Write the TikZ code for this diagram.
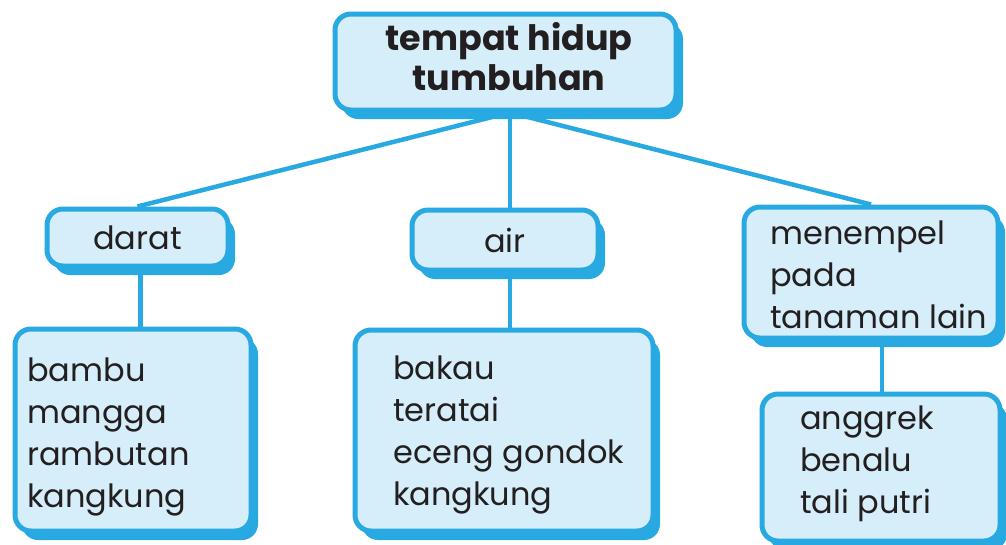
\documentclass[tikz,border=0pt]{standalone}
\usepackage{fontspec}
\setmainfont{Poppins}
\usetikzlibrary{shadows,backgrounds}
\definecolor{bl}{HTML}{29A9E1}
\definecolor{lb}{HTML}{D5EEFA}
\definecolor{ink}{HTML}{231F20}
\begin{document}
\begin{tikzpicture}[x=1pt,y=-1pt,
  box/.style={draw=bl,line width=5pt,fill=lb,rounded corners=16pt,inner sep=0pt,
    drop shadow={shadow xshift=7pt,shadow yshift=-9pt,fill=bl,opacity=1}},
  conn/.style={draw=bl,line width=4.5pt},
  txt/.style={font=\fontsize{32}{42}\selectfont,text=ink,align=left},
  list/.style={txt,anchor=north west,inner sep=0pt}]
\useasboundingbox (0,0) rectangle (1006,544);
% boxes
\node[box,minimum width=341pt,minimum height=96pt] (top) at (505.5,62) {};
\node[box,txt,minimum width=181pt,minimum height=57pt] (darat) at (137.5,237.5) {darat};
\node[box,txt,minimum width=186pt,minimum height=60pt] (air) at (505,240) {air};
\node[box,minimum width=254pt,minimum height=131pt] (menempel) at (871,272.5) {};
\node[box,minimum width=236pt,minimum height=202pt] (bambu) at (133,430) {};
\node[box,minimum width=298pt,minimum height=201pt] (bakau) at (504,430.5) {};
\node[box,minimum width=238pt,minimum height=147pt] (anggrek) at (881,467.5) {};
% texts
\node[txt,anchor=north,inner sep=0pt,align=center,font=\bfseries\fontsize{35}{40}\selectfont] (topT) at (509,22) {tempat hidup\\tumbuhan};
\node[list] (menempelT) at (770,221) {menempel\\pada\\\mbox{tanaman lain}};
\node[list] (bambuT) at (27,358) {bambu\\mangga\\rambutan\\kangkung};
\node[list] (bakauT) at (393,356) {bakau\\teratai\\\mbox{eceng gondok}\\kangkung};
\node[list] (anggrekT) at (800,406) {anggrek\\benalu\\\mbox{tali putri}};
% connector points
\coordinate (j) at (510,0 |- top.south);
\coordinate (dx) at ([xshift=3pt]darat.south);
\coordinate (ax) at (510,0 |- air.south);
\coordinate (mx) at ([xshift=11pt]menempel.south);
\begin{scope}[on background layer]
\fill[white] (0,0) rectangle (1006,544);
\draw[conn] (j) -- (darat.north);
\draw[conn] (j) -- (j |- air.north);
\draw[conn] (j) -- (menempel.north);
\draw[conn] (dx) -- (dx |- bambu.north);
\draw[conn] (ax) -- (ax |- bakau.north);
\draw[conn] (mx) -- (mx |- anggrek.north);
\end{scope}
\end{tikzpicture}
\end{document}
